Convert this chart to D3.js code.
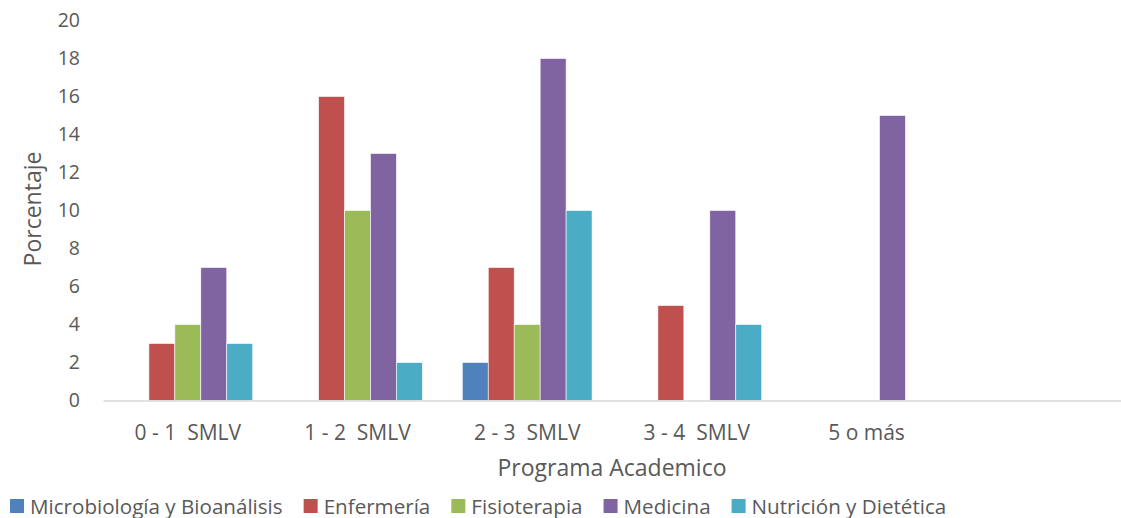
<!DOCTYPE html>
<html>
<head>
<meta charset="utf-8">
<script src="https://cdn.jsdelivr.net/npm/d3@7"></script>
<style>
html,body{margin:0;padding:0;background:#fff;}
svg{display:block;font-family:"Open Sans","Noto Sans",sans-serif;}
</style>
</head>
<body>
<svg id="chart" width="1121" height="518"></svg>
<script>
const categories = ["0 - 1  SMLV", "1 - 2  SMLV", "2 - 3  SMLV", "3 - 4  SMLV", "5 o más", ""];
const seriesNames = ["Microbiología y Bioanálisis", "Enfermería", "Fisioterapia", "Medicina", "Nutrición y Dietética"];
const microbiologia = [0, 0, 2, 0, 0, null];
const enfermeria = [3, 16, 7, 5, 0, null];
const fisioterapia = [4, 10, 4, 0, 0, null];
const medicina = [7, 13, 18, 10, 15, null];
const nutricion = [3, 2, 10, 4, 0, null];
const yTicks = [0, 2, 4, 6, 8, 10, 12, 14, 16, 18, 20];
const colors = ["#4F81BD", "#C0504D", "#9BBB59", "#8064A2", "#4BACC6"];
const seriesValues = [microbiologia, enfermeria, fisioterapia, medicina, nutricion];

const svg = d3.select("#chart");
const mLeft = 103, mRight = 1121, mTop = 20.5, mBottom = 400.5;

const x0 = d3.scaleBand().domain(categories).range([mLeft, mRight]).paddingInner(0.235).paddingOuter(0.1175);
const x1 = d3.scaleBand().domain(seriesNames).range([0, x0.bandwidth()]);
const y = d3.scaleLinear().domain([0, 20]).range([mBottom, mTop]);

// y axis tick labels
const yAxis = d3.axisLeft(y).tickValues(yTicks).tickSize(0).tickPadding(0);
const gy = svg.append("g").attr("transform", "translate(80,0)").call(yAxis);
gy.select(".domain").remove();
gy.selectAll("text").attr("fill", "#595959").style("font-size", "19.5px").style("font-family", "'Open Sans', sans-serif");

// bars
const rows = [];
categories.forEach((c, i) => {
  seriesNames.forEach((s, j) => {
    const v = seriesValues[j][i];
    if (v) rows.push({c, s, v, j});
  });
});
svg.append("g").selectAll("rect").data(rows).join("rect")
  .attr("x", d => x0(d.c) + x1(d.s))
  .attr("y", d => y(d.v))
  .attr("width", x1.bandwidth())
  .attr("height", d => y(0) - y(d.v))
  .attr("fill", d => colors[d.j])
  .attr("stroke", "#fff").attr("stroke-width", 0.6);

// x axis
const xAxis = d3.axisBottom(x0).tickSize(0).tickPadding(0);
const gx = svg.append("g").attr("transform", `translate(0,${mBottom})`).call(xAxis);
gx.select(".domain").attr("stroke", "#d9d9d9").attr("stroke-width", 1.5);
gx.selectAll("text").attr("fill", "#595959").attr("dy", null).attr("y", 39.5)
  .style("font-size", "21px").style("font-family", "'Open Sans', sans-serif").style("white-space", "pre")
  .attr("xml:space", "preserve");

// axis titles
svg.append("text").attr("x", (mLeft + mRight) / 2).attr("y", 476).attr("text-anchor", "middle")
  .attr("fill", "#595959").style("font-size", "23px").text("Programa Academico");
svg.append("text").attr("transform", "translate(41,209) rotate(-90)").attr("text-anchor", "middle")
  .attr("fill", "#595959").style("font-size", "23px").text("Porcentaje");

// legend
const lg = svg.append("g").attr("transform", "translate(10,506)");
let lx = 0;
seriesNames.forEach((s, j) => {
  const g = lg.append("g").attr("transform", `translate(${lx},0)`);
  g.append("rect").attr("x", 0).attr("y", -7).attr("width", 14).attr("height", 14).attr("fill", colors[j]);
  const t = g.append("text").attr("x", 20).attr("y", 7.5).attr("fill", "#595959").style("font-size", "20.6px").text(s);
  lx += 20 + t.node().getComputedTextLength() + 21;
});
</script>
</body>
</html>
